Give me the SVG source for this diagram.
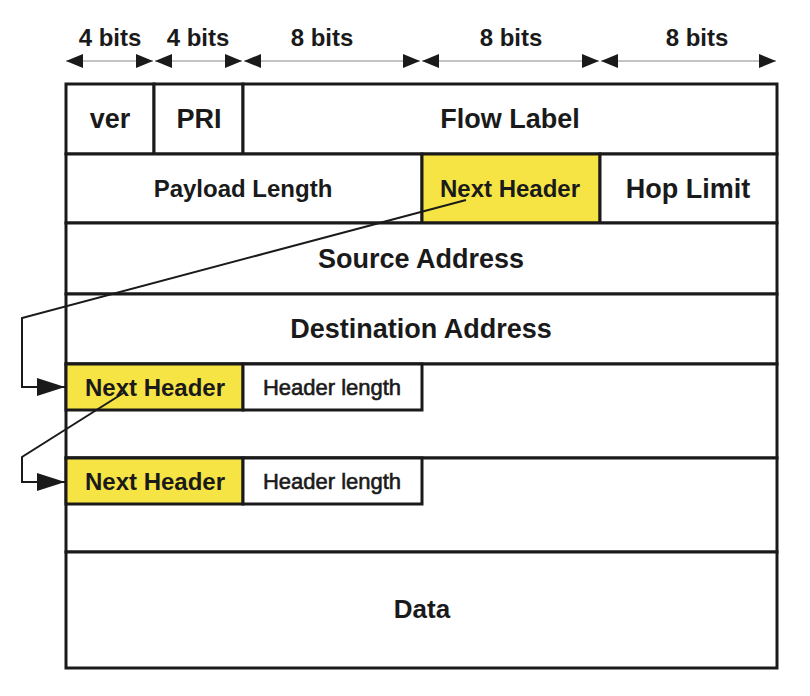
<svg xmlns="http://www.w3.org/2000/svg" width="810" height="696" viewBox="0 0 810 696">
<defs>
<style>
.cell{fill:#ffffff;stroke:#1a1a1a;stroke-width:3}
.hl{fill:#f6e445;stroke:#1a1a1a;stroke-width:3}
.t{font-family:"Liberation Sans",Arial,sans-serif;font-weight:bold;fill:#1a1a1a;text-anchor:middle}
.r{font-family:"Liberation Sans",Arial,sans-serif;fill:#1a1a1a;stroke:#1a1a1a;stroke-width:0.6;text-anchor:middle}
.dim{stroke:#8a8a8a;stroke-width:1.2;fill:none;marker-start:url(#dh);marker-end:url(#dh)}
.link{stroke:#1a1a1a;stroke-width:2;fill:none}
</style>
<marker id="dh" markerUnits="userSpaceOnUse" markerWidth="17" markerHeight="14" refX="17" refY="7" orient="auto-start-reverse">
<path d="M0,0 L17,7 L0,14 z" fill="#1a1a1a"/>
</marker>
<marker id="ah" markerUnits="userSpaceOnUse" markerWidth="28" markerHeight="18" refX="28" refY="9" orient="auto">
<path d="M0,0 L28,9 L0,18 z" fill="#1a1a1a"/>
</marker>
</defs>
<rect width="810" height="696" fill="#ffffff"/>
<g id="bit-widths">
<line class="dim" x1="66" y1="61" x2="153" y2="61"/>
<line class="dim" x1="155" y1="61" x2="242" y2="61"/>
<line class="dim" x1="244" y1="61" x2="420" y2="61"/>
<line class="dim" x1="422" y1="61" x2="599" y2="61"/>
<line class="dim" x1="601" y1="61" x2="776" y2="61"/>
<text class="t" x="110" y="46" font-size="24">4 bits</text>
<text class="t" x="198" y="46" font-size="24">4 bits</text>
<text class="t" x="322" y="46" font-size="24">8 bits</text>
<text class="t" x="511" y="46" font-size="24">8 bits</text>
<text class="t" x="697" y="46" font-size="24">8 bits</text>
</g>
<g id="ver"><rect class="cell" x="66" y="84" width="88" height="70"/><text class="t" x="110" y="128" font-size="27">ver</text></g>
<g id="pri"><rect class="cell" x="154" y="84" width="89" height="70"/><text class="t" x="199" y="128" font-size="27">PRI</text></g>
<g id="flow-label"><rect class="cell" x="243" y="84" width="534" height="70"/><text class="t" x="510" y="128" font-size="27">Flow Label</text></g>
<g id="payload-length"><rect class="cell" x="66" y="154" width="356" height="69"/><text class="t" x="243" y="197" font-size="24">Payload Length</text></g>
<g id="next-header-0"><rect class="hl" x="422" y="154" width="178" height="69"/><text class="t" x="510" y="197" font-size="24">Next Header</text></g>
<g id="hop-limit"><rect class="cell" x="600" y="154" width="177" height="69"/><text class="t" x="688" y="198" font-size="27">Hop Limit</text></g>
<g id="source-address"><rect class="cell" x="66" y="223" width="711" height="71"/><text class="t" x="421" y="268" font-size="27">Source Address</text></g>
<g id="destination-address"><rect class="cell" x="66" y="294" width="711" height="70"/><text class="t" x="421" y="338" font-size="27">Destination Address</text></g>
<g id="ext-header-1">
<rect class="cell" x="66" y="364" width="711" height="94"/>
<rect class="hl" x="66" y="364" width="177" height="46"/>
<text class="t" x="155" y="396" font-size="24">Next Header</text>
<rect class="cell" x="243" y="364" width="179" height="46"/>
<text class="r" x="332" y="395" font-size="22">Header length</text>
</g>
<g id="ext-header-2">
<rect class="cell" x="66" y="458" width="711" height="94"/>
<rect class="hl" x="66" y="458" width="177" height="46"/>
<text class="t" x="155" y="490" font-size="24">Next Header</text>
<rect class="cell" x="243" y="458" width="179" height="46"/>
<text class="r" x="332" y="489" font-size="22">Header length</text>
</g>
<g id="data"><rect class="cell" x="66" y="552" width="711" height="116"/><text class="t" x="422" y="618" font-size="26">Data</text></g>
<g id="connectors">
<polyline class="link" points="466,200 22,318 22,387 65,387" marker-end="url(#ah)"/>
<polyline class="link" points="125,392 22,457 22,482 65,482" marker-end="url(#ah)"/>
</g>
</svg>
